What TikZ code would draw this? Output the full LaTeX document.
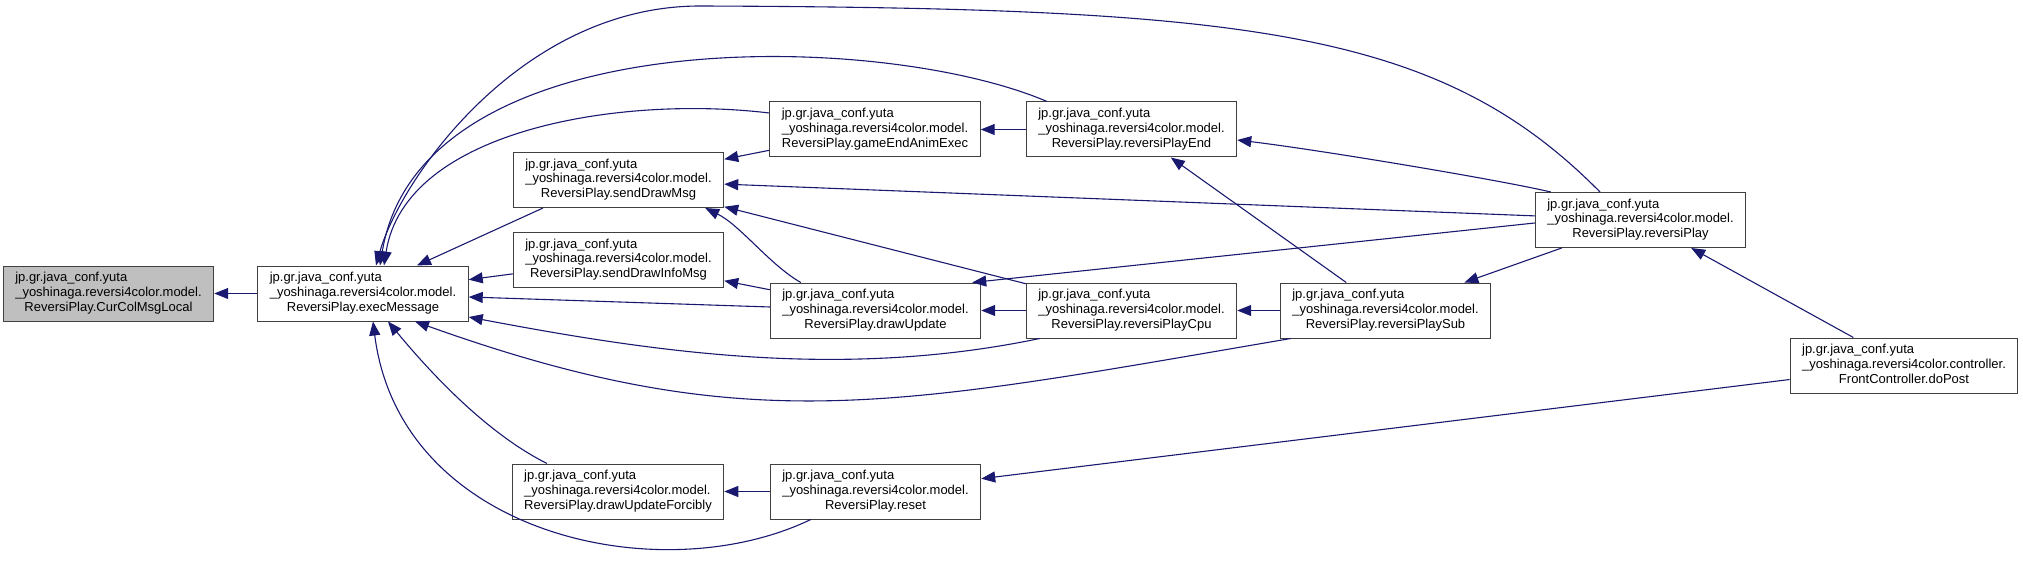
\documentclass[tikz,border=0pt]{standalone}
\usepackage{fontspec}
\setmainfont{Liberation Sans}
\usetikzlibrary{arrows.meta}
\definecolor{edgeblue}{RGB}{25,25,112}
\definecolor{nodegray}{RGB}{191,191,191}
% two left-aligned lines, last line centred
\newcommand{\qname}[3]{\begin{tabular}{@{}l@{}}#1\\#2\\\multicolumn{1}{@{}c@{}}{#3}\end{tabular}}

\begin{document}
\begin{tikzpicture}[x=1pt, y=-1pt,
    fn/.style={draw=black!75, line width=1pt, fill=white, minimum width=207pt,
      minimum height=55pt, inner xsep=12pt, inner ysep=2pt,
      font=\fontsize{13}{14.7}\selectfont},
    call/.style={-{Triangle[length=14pt,width=11pt]}, draw=edgeblue, line width=1.1pt}]
  \useasboundingbox (0,0) rectangle (2023,564);

  \node[fn, fill=nodegray] (cur) at (108.5,293.5) {\qname{jp.gr.java\_conf.yuta}{\_yoshinaga.reversi4color.model.}{ReversiPlay.CurColMsgLocal}};
  \node[fn] (exec) at (363,293.5) {\qname{jp.gr.java\_conf.yuta}{\_yoshinaga.reversi4color.model.}{ReversiPlay.execMessage}};
  \node[fn] (sdm) at (618.5,180) {\qname{jp.gr.java\_conf.yuta}{\_yoshinaga.reversi4color.model.}{ReversiPlay.sendDrawMsg}};
  \node[fn] (sdim) at (618.5,260) {\qname{jp.gr.java\_conf.yuta}{\_yoshinaga.reversi4color.model.}{ReversiPlay.sendDrawInfoMsg}};
  \node[fn] (duf) at (618,491.5) {\qname{jp.gr.java\_conf.yuta}{\_yoshinaga.reversi4color.model.}{ReversiPlay.drawUpdateForcibly}};
  \node[fn] (geae) at (875,129.5) {\qname{jp.gr.java\_conf.yuta}{\_yoshinaga.reversi4color.model.}{ReversiPlay.gameEndAnimExec}};
  \node[fn] (du) at (875.5,310.5) {\qname{jp.gr.java\_conf.yuta}{\_yoshinaga.reversi4color.model.}{ReversiPlay.drawUpdate}};
  \node[fn] (reset) at (875.5,491.5) {\qname{jp.gr.java\_conf.yuta}{\_yoshinaga.reversi4color.model.}{ReversiPlay.reset}};
  \node[fn] (rpe) at (1131.5,129.5) {\qname{jp.gr.java\_conf.yuta}{\_yoshinaga.reversi4color.model.}{ReversiPlay.reversiPlayEnd}};
  \node[fn] (rpc) at (1131.5,310.5) {\qname{jp.gr.java\_conf.yuta}{\_yoshinaga.reversi4color.model.}{ReversiPlay.reversiPlayCpu}};
  \node[fn] (rps) at (1385.5,310.5) {\qname{jp.gr.java\_conf.yuta}{\_yoshinaga.reversi4color.model.}{ReversiPlay.reversiPlaySub}};
  \node[fn] (rp) at (1640.5,220) {\qname{jp.gr.java\_conf.yuta}{\_yoshinaga.reversi4color.model.}{ReversiPlay.reversiPlay}};
  \node[fn] (dp) at (1904,365.5) {\qname{jp.gr.java\_conf.yuta}{\_yoshinaga.reversi4color.controller.}{FrontController.doPost}};

  % callers of execMessage
  \draw[call] (exec) -- (cur);
  \draw[call] ([xshift=-75.5pt]sdm.south) -- ([xshift=54pt]exec.north);
  \draw[call] (sdim) -- (exec);
  \draw[call] (du) -- (exec);
  \draw[call] ([xshift=14pt]rpc.south west) .. controls (845,379) and (663,354) .. ([yshift=-23.5pt]exec.east);
  \draw[call] ([xshift=11pt]rps.south west) .. controls (895,406) and (749,441) .. ([xshift=52pt]exec.south);
  \draw[call] ([yshift=16.5pt]geae.west) .. controls (620,95) and (405,130) .. ([xshift=21pt]exec.north);
  \draw[call] ([xshift=-84.5pt]rpe.north) .. controls (880,30) and (420,20) .. ([xshift=17pt]exec.north);
  \draw[call] ([xshift=-40.5pt]rp.north) .. controls (1440,30) and (1250,8) .. (700,6)
    .. controls (520,6) and (400,180) .. ([xshift=13pt]exec.north);
  \draw[call] ([xshift=-71pt]duf.north) .. controls (480,430) and (420,360) .. ([xshift=25pt]exec.south);
  \draw[call] ([xshift=41pt]reset.south west) .. controls (660,592) and (400,535) .. ([xshift=10pt]exec.south);

  % the rest
  \draw[call] (geae) -- (sdm);
  \draw[call] (rp) -- (sdm);
  \draw[call] (rpc) -- (sdm);
  \draw[call] ([xshift=31pt]du.north west) .. controls (770,265) and (740,225) .. ([xshift=-19pt]sdm.south east);
  \draw[call] (du) -- (sdim);
  \draw[call] (rpe) -- (geae);
  \draw[call] (rpc) -- (du);
  \draw[call] ([yshift=-3pt]rp.west) -- ([xshift=-9pt]du.north east);
  \draw[call] ([xshift=16pt]rp.north west) .. controls (1500,180) and (1320,150) .. ([yshift=-10.5pt]rpe.east);
  \draw[call] (rps) -- (rpe);
  \draw[call] (rps) -- (rpc);
  \draw[call] (rp) -- (rps);
  \draw[call] (dp) -- (rp);
  \draw[call] (dp) -- (reset);
  \draw[call] (reset) -- (duf);
\end{tikzpicture}
\end{document}
